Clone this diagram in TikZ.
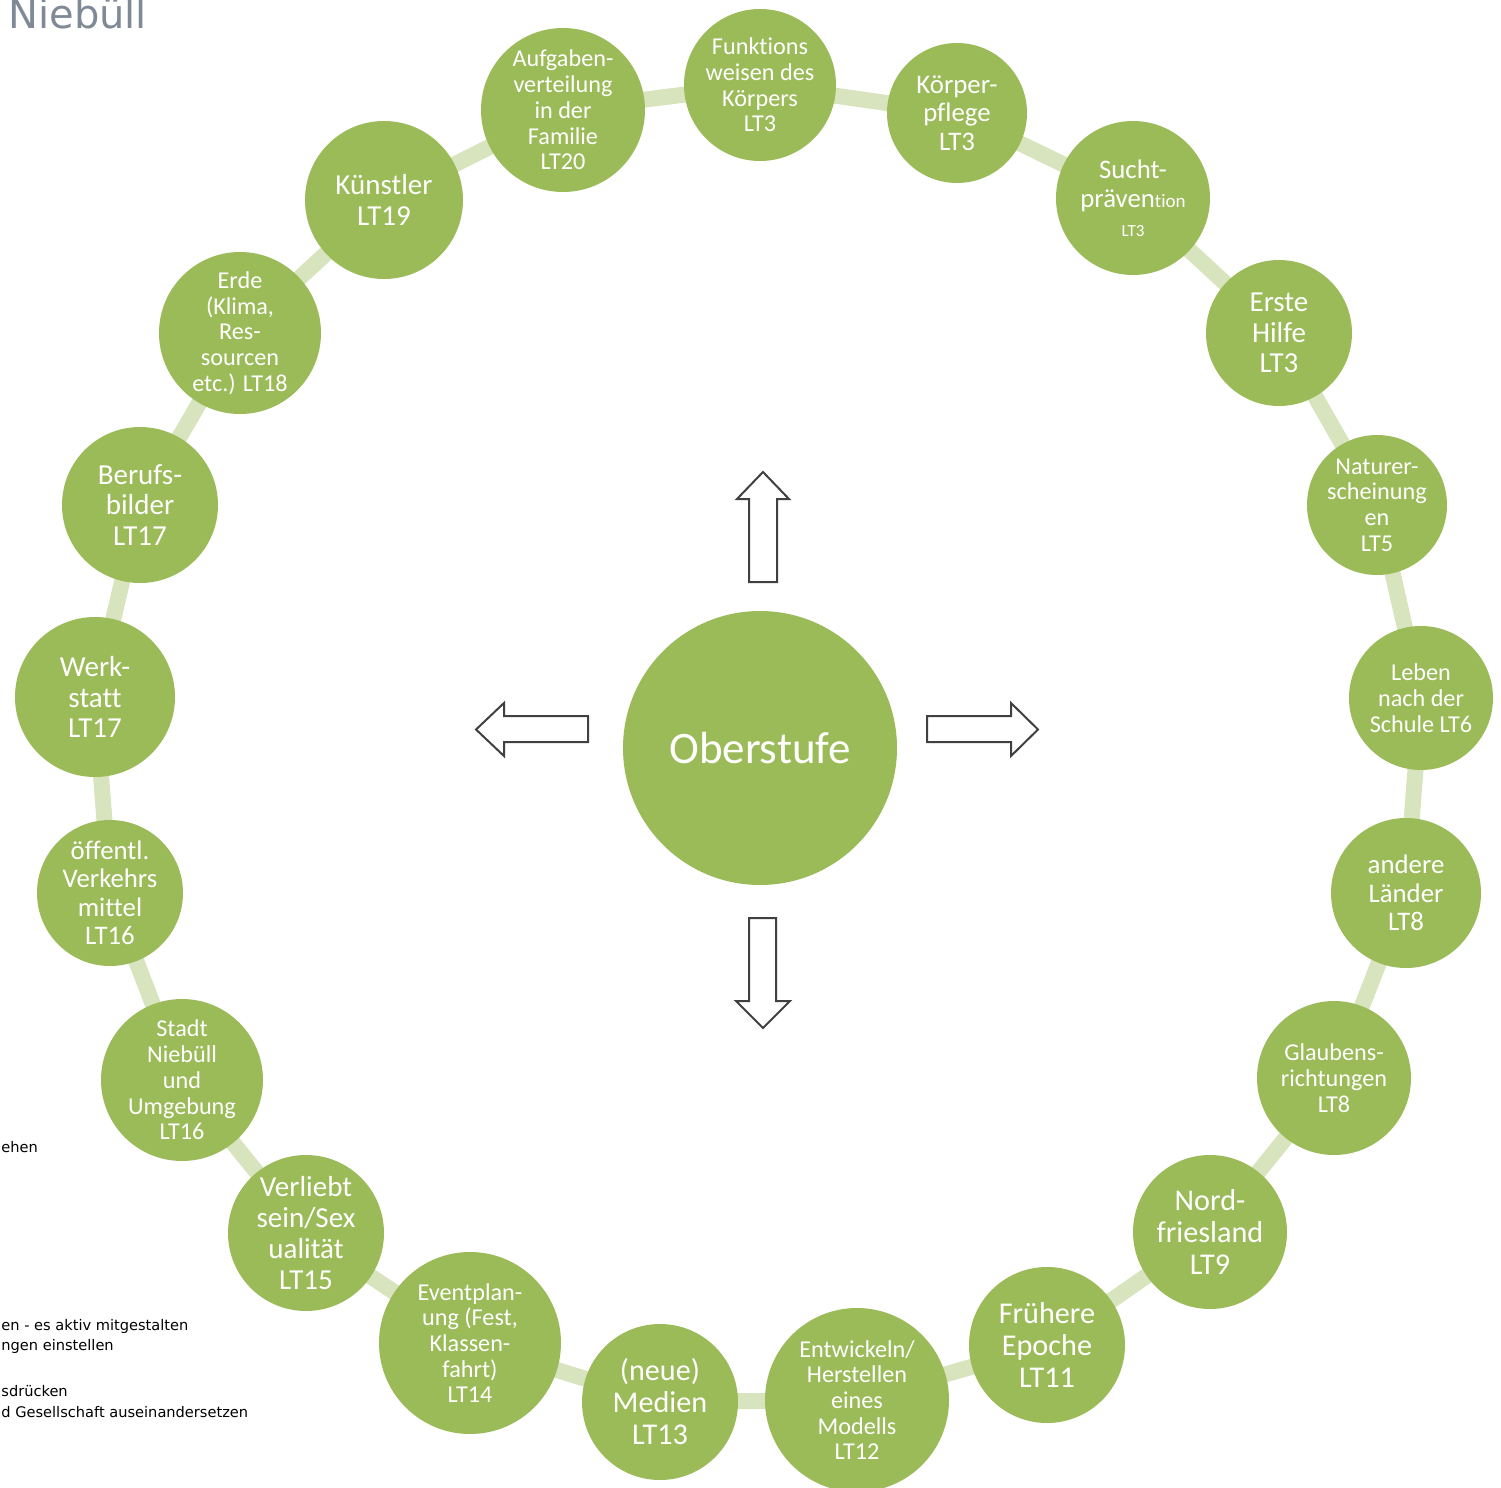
\documentclass[tikz,border=0pt]{standalone}
\usepackage{fontspec}
\setmainfont[Ligatures=NoCommon]{Carlito}
\newfontfamily\titlefont{DejaVu Sans}
\usetikzlibrary{backgrounds}
\definecolor{cgreen}{HTML}{9BBB59}
\definecolor{cring}{HTML}{D7E4BD}
\definecolor{ctitle}{HTML}{7F8A96}
\definecolor{carrow}{HTML}{404040}
\begin{document}
\begin{tikzpicture}[x=0.5pt,y=-0.5pt,
  bub/.style={circle, fill=cgreen, inner sep=0pt, minimum size=#1*1pt, text=white, align=center},
  fsA/.style={font=\fontsize{12.1pt}{12.85pt}\selectfont},
  fsB/.style={font=\fontsize{13.4pt}{14.25pt}\selectfont},
  fsC/.style={font=\fontsize{14.5pt}{15.35pt}\selectfont},
  fsD/.style={font=\fontsize{15.1pt}{16pt}\selectfont},
  ring/.style={draw=cring, line width=8pt},
  blockarrow/.style={draw=carrow, fill=white, line width=1pt, line join=miter},
  frag/.style={font=\titlefont\fontsize{7.3pt}{8pt}\selectfont, anchor=base west, inner sep=0pt, text=black}
]
\useasboundingbox (0,0) rectangle (1501,1488);

% title and page fragments
\node[anchor=base west, inner sep=0pt, text=ctitle, font=\titlefont\fontsize{20pt}{24pt}\selectfont] (title) at (8,28) {Niebüll};
\node[frag] (fr1) at (1,1152) {ehen};
\node[frag] (fr2) at (1,1330) {en - es aktiv mitgestalten};
\node[frag] (fr3) at (1,1350) {ngen einstellen};
\node[frag] (fr4) at (1,1396) {sdrücken};
\node[frag] (fr5) at (1,1417) {d Gesellschaft auseinandersetzen};

% ring nodes
\node[bub=76, fsA] (n1) at (760,85) {Funktions\\weisen des\\Körpers\\LT3};
\node[bub=70, fsB] (n2) at (957,113) {Körper-\\pflege\\LT3};
\node[bub=77, font=\fontsize{13.4pt}{14.5pt}\selectfont] (n3) at (1133,198) {Sucht-\\präven{\fontsize{9.5pt}{10pt}\selectfont tion}\\{\fontsize{8.5pt}{10pt}\selectfont LT3}};
\node[bub=73, fsC] (n4) at (1279,333) {Erste\\Hilfe\\LT3};
\node[bub=70, fsA] (n5) at (1377,505) {Naturer-\\scheinung\\en\\LT5};
\node[bub=72, fsA] (n6) at (1421,698) {Leben\\nach der\\Schule LT6};
\node[bub=75, fsB] (n7) at (1406,893) {andere\\Länder\\LT8};
\node[bub=77, fsA] (n8) at (1334,1078) {Glaubens-\\richtungen\\LT8};
\node[bub=77, fsD] (n9) at (1210,1232) {Nord-\\friesland\\LT9};
\node[bub=78, fsD] (n10) at (1047,1345) {Frühere\\Epoche\\LT11};
\node[bub=92, fsA] (n11) at (857,1400) {Entwickeln/\\Herstellen\\eines\\Modells\\LT12};
\node[bub=78, fsD] (n12) at (660,1402) {(neue)\\Medien\\LT13};
\node[bub=91, fsA] (n13) at (470,1343) {Eventplan-\\ung (Fest,\\Klassen-\\fahrt)\\LT14};
\node[bub=78, fsC] (n14) at (306,1233) {Verliebt\\sein/Sex\\ualität\\LT15};
\node[bub=81, fsA] (n15) at (182,1080) {Stadt\\Niebüll\\und\\Umgebung\\LT16};
\node[bub=73, fsB] (n16) at (110,893) {öffentl.\\Verkehrs\\mittel\\LT16};
\node[bub=80, fsC] (n17) at (95,697) {Werk-\\statt\\LT17};
\node[bub=78, fsC] (n18) at (140,505) {Berufs-\\bilder\\LT17};
\node[bub=81, fsA] (n19) at (240,333) {Erde\\(Klima,\\Res-\\sourcen\\etc.) LT18};
\node[bub=79, fsC] (n20) at (384,200) {Künstler\\LT19};
\node[bub=82, fsA] (n21) at (563,110) {Aufgaben-\\verteilung\\in der\\Familie\\LT20};

% centre
\node[bub=137, font=\fontsize{22.5pt}{26pt}\selectfont] (ctr) at (760,748) {Oberstufe};

% ring connectors
\begin{pgfonlayer}{background}
\foreach \a/\b in {n1/n2,n2/n3,n3/n4,n4/n5,n5/n6,n6/n7,n7/n8,n8/n9,n9/n10,n10/n11,n11/n12,n12/n13,n13/n14,n14/n15,n15/n16,n16/n17,n17/n18,n18/n19,n19/n20,n20/n21,n21/n1}
  \draw[ring] (\a.center) -- (\b.center);
\end{pgfonlayer}

% block arrows
\draw[blockarrow] (749,582) -- (749,499) -- (737,499) -- (763,472) -- (789,499) -- (777,499) -- (777,582) -- cycle;
\draw[blockarrow] (588,716) -- (504,716) -- (504,703) -- (476,729.5) -- (504,756) -- (504,742) -- (588,742) -- cycle;
\draw[blockarrow] (927,716) -- (1011,716) -- (1011,703) -- (1038,729.5) -- (1011,756) -- (1011,742) -- (927,742) -- cycle;
\draw[blockarrow] (749,918) -- (749,1001) -- (736,1001) -- (763,1028) -- (790,1001) -- (776,1001) -- (776,918) -- cycle;
\end{tikzpicture}
\end{document}
